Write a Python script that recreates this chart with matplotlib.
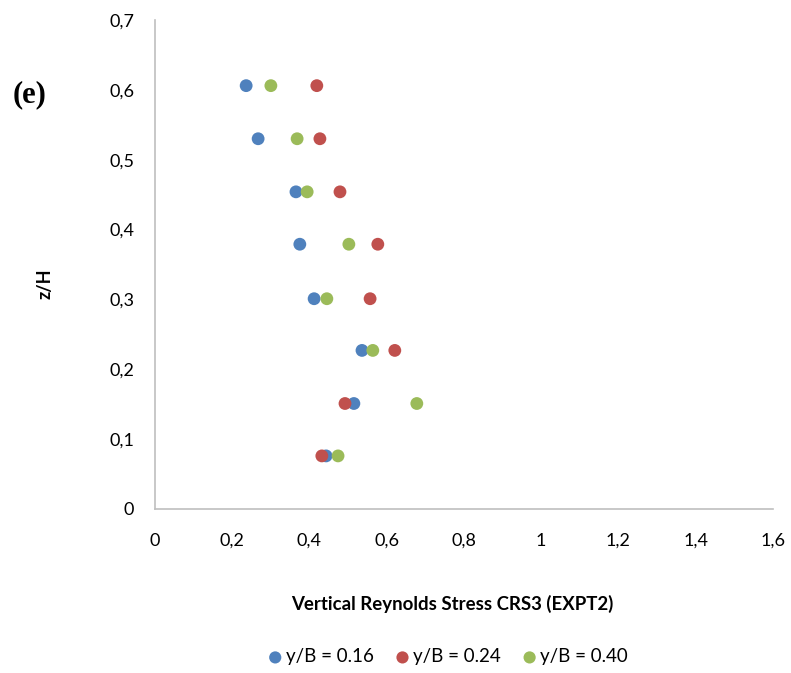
import matplotlib
matplotlib.use("Agg")
import matplotlib.pyplot as plt
from matplotlib.ticker import FuncFormatter, MultipleLocator

z_h = [0.606, 0.530, 0.454, 0.379, 0.301, 0.227, 0.151, 0.076]
blue_x = [0.236, 0.267, 0.365, 0.375, 0.412, 0.536, 0.515, 0.443]
red_x = [0.419, 0.427, 0.479, 0.577, 0.557, 0.621, 0.492, 0.432]
green_x = [0.300, 0.368, 0.394, 0.502, 0.445, 0.564, 0.678, 0.474]
labels = ["y/B = 0.16", "y/B = 0.24", "y/B = 0.40"]
colors = ["#4F81BD", "#C0504D", "#9BBB59"]

plt.rcParams['font.family'] = ['Lato', 'DejaVu Sans']

fig = plt.figure(figsize=(7.91, 6.73), dpi=100)
ax = fig.add_axes([0.196, 0.2437, 0.781, 0.7266])

for xs, lab, c in zip([blue_x, red_x, green_x], labels, colors):
    ax.scatter(xs, z_h, s=85, color=c, label=lab, edgecolors='none', zorder=3)

ax.set_xlim(0, 1.6)
ax.set_ylim(0, 0.7)
ax.xaxis.set_major_locator(MultipleLocator(0.2))
ax.yaxis.set_major_locator(MultipleLocator(0.1))

def fmt(v, pos):
    s = f"{v:.1f}"
    if s.endswith(".0"):
        s = s[:-2]
    return s.replace(".", ",")

ax.xaxis.set_major_formatter(FuncFormatter(fmt))
ax.yaxis.set_major_formatter(FuncFormatter(fmt))

for side in ['top', 'right']:
    ax.spines[side].set_visible(False)
for side in ['left', 'bottom']:
    ax.spines[side].set_color('#BFBFBF')
    ax.spines[side].set_linewidth(1.2)
ax.tick_params(length=0, labelsize=13, colors='black')
ax.tick_params(axis='x', pad=17)
ax.tick_params(axis='y', pad=15)

ax.set_xlabel("Vertical Reynolds Stress CRS3 (EXPT2)", fontsize=13.4, fontweight='bold')
ax.xaxis.set_label_coords(0.481, -0.175)
ax.set_ylabel("z/H", fontsize=13, fontweight='bold')
ax.yaxis.set_label_coords(-0.165, 0.46)

fig.text(0.0165, 0.859, "(e)", fontsize=22, fontweight='bold', family='Liberation Serif',
         va='center', ha='left')

leg = fig.legend(loc='center', bbox_to_anchor=(0.566, 0.024), ncol=3, frameon=False,
                 fontsize=13.5, handlelength=0.8, handletextpad=0.15, columnspacing=1.15,
                 markerscale=0.95)

fig.savefig("out.png", dpi=100)
